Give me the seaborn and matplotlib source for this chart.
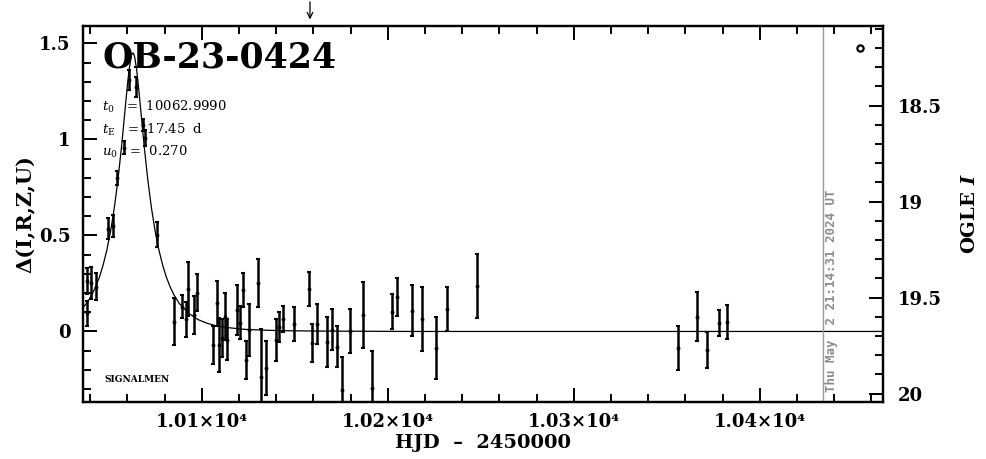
import numpy as np
import matplotlib
matplotlib.use("Agg")
import matplotlib.pyplot as plt
import seaborn as sns
from matplotlib.ticker import MultipleLocator, FixedLocator

# event parameters
event_name = "OB-23-0424"
t0 = 10062.9990
tE = 17.45
u0 = 0.270
I_base = 19.676

# OGLE data: HJD-2450000, delta mag, error
hjd = [10038.2, 10038.6, 10040.75, 10043.4, 10049.6, 10052.3, 10054.3, 10058.4,
       10060.9, 10064.7, 10068.2, 10069.5, 10075.7, 10085.3, 10089.6, 10091.6,
       10092.8, 10096.0, 10097.6, 10105.9, 10108.1, 10109.5, 10111.1, 10112.5,
       10113.8, 10118.8, 10120.6, 10122.4, 10123.7, 10125.6, 10130.4, 10131.7,
       10134.6, 10139.9, 10141.7, 10143.5, 10149.6, 10157.7, 10159.5, 10161.8,
       10167.5, 10169.9, 10172.6, 10175.6, 10179.7, 10186.6, 10191.7, 10202.5,
       10204.8, 10212.9, 10218.6, 10225.8, 10231.7, 10247.8, 10356.2, 10366.1,
       10371.5, 10378.3, 10382.3]
delta = [0.096, 0.263, 0.253, 0.232, 0.534, 0.549, 0.799, 0.956,
         1.310, 1.273, 1.076, 1.008, 0.505, 0.051, 0.129, 0.064,
         0.222, 0.086, 0.202, -0.070, 0.147, -0.070, -0.035, 0.077,
         -0.044, 0.112, 0.046, 0.216, -0.148, 0.008, 0.251, -0.235,
         -0.189, -0.044, 0.025, 0.065, 0.039, 0.220, -0.061, 0.037,
         -0.056, 0.009, -0.079, -0.305, 0.003, 0.086, -0.293, 0.103,
         0.181, 0.107, 0.064, -0.088, 0.117, 0.237, -0.088, 0.077,
         -0.096, 0.043, 0.051]
err = [0.065, 0.068, 0.083, 0.070, 0.055, 0.057, 0.035, 0.034,
       0.050, 0.050, 0.030, 0.040, 0.065, 0.122, 0.061, 0.091,
       0.140, 0.100, 0.097, 0.097, 0.117, 0.139, 0.100, 0.122,
       0.107, 0.128, 0.085, 0.091, 0.100, 0.135, 0.126, 0.246,
       0.141, 0.110, 0.078, 0.067, 0.087, 0.090, 0.100, 0.104,
       0.131, 0.106, 0.107, 0.174, 0.113, 0.174, 0.193, 0.091,
       0.098, 0.133, 0.168, 0.161, 0.116, 0.169, 0.115, 0.127,
       0.094, 0.067, 0.088]

# model curve (days from t0, delta mag)
model_dt = [-27, -24, -22, -20, -18, -16, -14, -12, -10, -8, -6, -4, -3, -2, -1, -0.5, 0,
            0.5, 1, 2, 3, 4, 6, 8, 10, 12, 14, 16, 18, 20, 22, 25, 30, 35, 40, 45,
            50, 60, 70, 80, 100, 150, 420]
model_delta = [0.121, 0.159, 0.192, 0.233, 0.283, 0.346, 0.424, 0.521, 0.642, 0.792,
               0.972, 1.176, 1.277, 1.366, 1.428, 1.445, 1.451,
               1.445, 1.428, 1.366, 1.277, 1.176, 0.972, 0.792, 0.642, 0.521, 0.424,
               0.346, 0.283, 0.233, 0.192, 0.145, 0.094, 0.062, 0.042, 0.029,
               0.021, 0.011, 0.007, 0.004, 0.002, 0.0, 0.0]

x_ticks = [10100, 10200, 10300, 10400]
x_labels = ["1.01×10⁴", "1.02×10⁴", "1.03×10⁴", "1.04×10⁴"]
y_ticks = [0, 0.5, 1, 1.5]
y_labels = ["0", "0.5", "1", "1.5"]
mag_ticks = [18.5, 19, 19.5, 20]
mag_labels = ["18.5", "19", "19.5", "20"]

t_now = 10434.2
t_arrow = 10158.2
stamp = "Thu May  2 21:14:31 2024 UT"

xlim = (10036.2, 10466.0)
ylim = (-0.366, 1.591)

sns.set_style("ticks")
plt.rcParams["font.family"] = ["DejaVu Serif"]
plt.rcParams["mathtext.fontset"] = "dejavuserif"
for key in ["text.color", "axes.labelcolor", "xtick.color", "ytick.color", "axes.edgecolor"]:
    plt.rcParams[key] = "black"

fig = plt.figure(figsize=(9.86, 4.59), dpi=100)
ax = fig.add_axes([0.0842, 0.1248, 0.8109, 0.8185])

model_t = [t0 + d for d in model_dt]
sns.lineplot(x=model_t, y=model_delta, ax=ax, color="black", lw=0.9, sort=False)

ax.errorbar(hjd, delta, yerr=err, fmt="o", ms=1.8, color="black",
            elinewidth=1.8, capsize=1.3, capthick=1.5, zorder=3)

ax.axvline(t_now, color="#999999", lw=1.0)
ax.text(t_now + 1.0, -0.315, stamp, rotation=90, color="#8c8c8c",
        fontsize=9, fontweight="bold", family="DejaVu Sans Mono",
        ha="left", va="bottom")

ax.set_xlim(*xlim)
ax.set_ylim(*ylim)

ax.xaxis.set_major_locator(FixedLocator(x_ticks))
ax.set_xticklabels(x_labels)
ax.xaxis.set_minor_locator(MultipleLocator(20))
ax.yaxis.set_major_locator(FixedLocator(y_ticks))
ax.set_yticklabels(y_labels)
ax.yaxis.set_minor_locator(MultipleLocator(0.1))

ax.tick_params(which="both", direction="in", top=True, right=False,
               width=1.4, labelsize=13)
ax.tick_params(which="major", length=10)
ax.tick_params(which="minor", length=5.5)
ax.tick_params(axis="x", pad=8)
ax.tick_params(axis="y", pad=9)
for lab in ax.get_xticklabels() + ax.get_yticklabels():
    lab.set_fontweight("bold")
for sp in ax.spines.values():
    sp.set_linewidth(1.6)
    sp.set_visible(True)

ax.set_xlabel("HJD  –  2450000", fontsize=14, fontweight="bold", labelpad=2)
ax.set_ylabel("Δ(I,R,Z,U)", fontsize=15, fontweight="bold", labelpad=2)

# magnitude axis
ax2 = ax.twinx()
ax2.set_ylim(I_base - ylim[0], I_base - ylim[1])
ax2.yaxis.set_major_locator(FixedLocator(mag_ticks))
ax2.set_yticklabels(mag_labels)
ax2.yaxis.set_minor_locator(MultipleLocator(0.1))
ax2.tick_params(which="both", direction="in", width=1.4, labelsize=13, pad=11)
ax2.tick_params(which="major", length=10)
ax2.tick_params(which="minor", length=5.5)
for lab in ax2.get_yticklabels():
    lab.set_fontweight("bold")
for sp in ax2.spines.values():
    sp.set_linewidth(1.6)
ax2.set_ylabel(r"OGLE $\mathbfit{I}$", fontsize=14, fontweight="bold", labelpad=14)

# texts
ax.text(0.024, 0.962, event_name, transform=ax.transAxes, fontsize=25,
        fontweight="bold", ha="left", va="top")
ax.text(0.024, 0.785, r"$t_0$   =  10062.9990", transform=ax.transAxes, fontsize=9.5, va="center")
ax.text(0.024, 0.724, r"$t_{\rm E}$   =  17.45  d", transform=ax.transAxes, fontsize=9.5, va="center")
ax.text(0.024, 0.665, r"$u_0$   =  0.270", transform=ax.transAxes, fontsize=9.5, va="center")
ax.text(0.027, 0.06, "SIGNALMEN", transform=ax.transAxes, fontsize=6.5,
        fontweight="bold", va="center")
ax.plot([0.972], [0.942], transform=ax.transAxes, marker="o", ms=4.5,
        mfc="none", mec="black", mew=1.6, clip_on=False)

# arrow above the plot
ax.annotate("", xy=(t_arrow, ylim[1] + 0.02), xytext=(t_arrow, ylim[1] + 0.14),
            xycoords="data", textcoords="data",
            arrowprops=dict(arrowstyle="->", color="black", lw=0.9),
            annotation_clip=False)

fig.savefig("out.png", dpi=100)
